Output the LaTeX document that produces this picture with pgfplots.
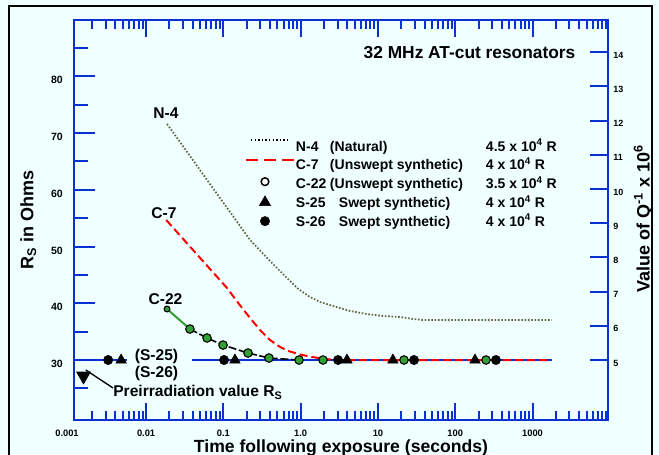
\documentclass[border=0pt]{standalone}
\usepackage{pgfplots}
\pgfplotsset{compat=1.18}
\usepackage{fontspec}
\setmainfont{Liberation Sans}
\definecolor{bg}{RGB}{240,255,255}
\definecolor{axblue}{RGB}{10,50,210}
\definecolor{nolive}{RGB}{100,100,60}
\definecolor{cgreen}{RGB}{50,160,50}
\newcommand{\fs}[1]{\fontsize{#1}{#1}\selectfont\bfseries}
\pgfplotsset{
  xaxbase/.style={
    at={(55.5pt,25.5pt)}, anchor=south west,
    scale only axis, width=400.5pt, height=300pt,
    xmin=0.001167, xmax=9466,
    ymin=19.424, ymax=89.93,
    axis line style={draw=axblue, line width=1.5pt},
    tick align=inside,
    tick style={draw=axblue, line width=1.5pt},
    major tick length=12.75pt, minor tick length=6.75pt,
    xtick={0.01,0.1,1,10,100,1000},
    minor xtick={0.002,0.003,0.004,0.005,0.006,0.007,0.008,0.009,
      0.02,0.03,0.04,0.05,0.06,0.07,0.08,0.09,
      0.2,0.3,0.4,0.5,0.6,0.7,0.8,0.9,
      2,3,4,5,6,7,8,9,20,30,40,50,60,70,80,90,
      200,300,400,500,600,700,800,900,
      2000,3000,4000,5000,6000,7000,8000,9000},
    ytick=\empty,
  }
}

\begin{document}
\begin{tikzpicture}
\begin{scope}[x=0.75pt,y=0.75pt]
\fill[bg] (0,0) rectangle (659,454);
\draw[black,line width=1pt] (9,-3) -- (9,448) -- (652,448) -- (652,-3);
\end{scope}

% ---------- top ticks only ----------
\begin{semilogxaxis}[xaxbase, xtick pos=right, xticklabels={}]
\end{semilogxaxis}

% ---------- main data axis ----------
\begin{semilogxaxis}[
  xaxbase, xtick pos=left, major tick length=0pt, minor tick length=0pt,
  xticklabels={0.01,0.1,1.0,10,100,1000},
  xticklabel style={font=\fs{7}, anchor=north, inner sep=0pt, yshift=-7.1pt},
  clip=false,
  legend cell align=left,
  legend style={at={(0.3202,0.7014)}, anchor=north west, draw=none, fill=none,
    inner sep=0pt, outer sep=0pt, row sep=0pt, column sep=0.75pt,
    font=\fs{10.5},
    nodes={inner sep=0pt, text height=4pt, text depth=4pt}},
]
% bottom tick lines (pointing up into the box)
\pgfplotsinvokeforeach{0.01,0.1,1,10,100,1000}{
  \draw[axblue, line width=1.5pt] (axis cs:#1,19.424) -- ++(0pt,12.75pt);
}
\pgfplotsinvokeforeach{0.002,0.003,0.004,0.005,0.006,0.007,0.008,0.009,
    0.02,0.03,0.04,0.05,0.06,0.07,0.08,0.09,
    0.2,0.3,0.4,0.5,0.6,0.7,0.8,0.9,
    2,3,4,5,6,7,8,9,20,30,40,50,60,70,80,90,
    200,300,400,500,600,700,800,900,
    2000,3000,4000,5000,6000,7000,8000,9000}{
  \draw[axblue, line width=1.5pt] (axis cs:#1,19.424) -- ++(0pt,6.75pt);
}
% reference line at 30 (blue)
\addplot[axblue, line width=1.5pt, forget plot] coordinates {(0.00188,30) (0.00566,30)};
\addplot[axblue, line width=1.5pt, forget plot] coordinates {(0.0391,30) (1760,30)};
% N-4 dotted
\addplot[nolive, line width=1.3pt, dash pattern=on 1.2pt off 1.3pt, forget plot] coordinates {
 (0.01866,71.6) (0.03698,65.96) (0.0670,61.02) (0.1219,56.09) (0.2213,51.15)
 (0.401,47.45) (0.897,42.69) (1.32,41.1) (1.78,40.22) (2.62,39.52) (4.35,38.64)
 (7.21,38.1) (11.6,37.76) (19.3,37.58) (28.4,37.23) (38.3,37.05) (1760,37.05)};
% C-7 dashed red
\addplot[red, line width=1.5pt, dash pattern=on 6pt off 3pt, forget plot] coordinates {
 (0.0182,54.68) (0.0456,48.60) (0.1114,42.69) (0.1592,39.87) (0.2213,37.40)
 (0.2979,35.29) (0.401,33.53) (0.5406,32.29) (0.7278,31.50) (0.9795,30.97)
 (1.402,30.53) (2.065,30.18) (2.951,30) (1760,30)};
% C-22 connecting lines
\addplot[cgreen, line width=1.5pt, forget plot] coordinates {(0.01866,38.99) (0.0369,35.46)};
\addplot[black, line width=1.2pt, dash pattern=on 6pt off 2pt, forget plot] coordinates {
 (0.0369,35.46) (0.0614,33.88) (0.0989,32.64) (0.2084,31.23) (0.389,30.35) (0.953,30)};
% S-25 triangles
\addplot[only marks, mark=triangle*, mark size=4.5pt, black, forget plot] coordinates {
 (0.00475,30) (0.141,30) (3.97,30) (15.6,30) (180,30)};
% S-26 filled circles
\addplot[only marks, mark=*, mark size=3.5pt, black, forget plot] coordinates {
 (0.00323,30) (0.102,30) (3.04,30) (29.3,30) (336,30)};
% C-22 green circles
\addplot[only marks, mark=*, mark size=2.2pt, mark options={fill=cgreen, draw=black, line width=0.8pt}, forget plot] coordinates {(0.01866,38.99)};
\addplot[only marks, mark=*, mark size=3.2pt, mark options={fill=cgreen, draw=black, line width=0.8pt}, forget plot] coordinates {
 (0.0369,35.46) (0.0614,33.88) (0.0989,32.64) (0.2084,31.23) (0.389,30.35)
 (0.953,30) (1.946,30) (21.7,30) (250,30)};
% preirradiation marker
\addplot[only marks, mark=triangle*, mark size=6pt, mark options={rotate=180}, black, forget plot] coordinates {(0.00155,27.18)};
\draw[black, line width=1pt] (axis cs:0.00166,28.24) -- (axis cs:0.003733,25.06);

% legend
\addlegendimage{legend image code/.code={
  \path[draw=none,fill=none] (0pt,-5.4pt) rectangle (36pt,8.66pt);
  \draw[black, line width=1.1pt, dash pattern=on 1pt off 1.7pt] (3.75pt,8.25pt) -- (33pt,8.25pt);}}
\addlegendentry{\makebox[25.5pt][l]{N-4}\makebox[117pt][l]{(Natural)}4.5 x 10\textsuperscript{4} R}
\addlegendimage{legend image code/.code={
  \path[draw=none,fill=none] (0pt,-5.4pt) rectangle (36pt,8.66pt);
  \draw[red, line width=1.5pt, dash pattern=on 9pt off 4.5pt] (0pt,7.1pt) -- (36pt,7.1pt);}}
\addlegendentry{\makebox[25.5pt][l]{C-7}\makebox[117pt][l]{(Unswept synthetic)}4 x 10\textsuperscript{4} R}
\addlegendimage{legend image code/.code={
  \path[draw=none,fill=none] (0pt,-5.4pt) rectangle (36pt,8.66pt);
  \draw[only marks, mark=*, mark size=2.9pt, mark options={fill=white, draw=black, line width=1.1pt}] plot coordinates {(14.25pt,5.25pt)};}}
\addlegendentry{\makebox[25.5pt][l]{C-22}\makebox[117pt][l]{(Unswept synthetic)}3.5 x 10\textsuperscript{4} R}
\addlegendimage{legend image code/.code={
  \path[draw=none,fill=none] (0pt,-5.4pt) rectangle (36pt,8.66pt);
  \draw[only marks, mark=triangle*, mark size=4.9pt, black] plot coordinates {(14.25pt,3.75pt)};}}
\addlegendentry{\makebox[25.5pt][l]{S-25}\makebox[117pt][l]{\hspace{6.75pt}Swept synthetic)}4 x 10\textsuperscript{4} R}
\addlegendimage{legend image code/.code={
  \path[draw=none,fill=none] (0pt,-5.4pt) rectangle (36pt,8.66pt);
  \draw[only marks, mark=*, mark size=3.5pt, black] plot coordinates {(14.25pt,3.75pt)};}}
\addlegendentry{\makebox[25.5pt][l]{S-26}\makebox[117pt][l]{\hspace{6.75pt}Swept synthetic)}4 x 10\textsuperscript{4} R}

% annotations
\node[font=\fs{11.7}, inner sep=0pt] at (axis cs:0.01811,73.54) {N-4};
\node[font=\fs{11.7}, inner sep=0pt] at (axis cs:0.01706,55.91) {C-7};
\node[font=\fs{11.7}, inner sep=0pt] at (axis cs:0.01783,40.66) {C-22};
\node[font=\fs{11.7}, inner sep=0pt, anchor=base] at (axis cs:0.01364,30) {(S-25)};
\node[font=\fs{11.7}, inner sep=0pt, anchor=base] at (axis cs:0.01364,27.0) {(S-26)};
\node[font=\fs{11.7}, inner sep=0pt, anchor=base west] at (axis cs:0.003733,23.48) {Preirradiation value R\textsubscript{S}};
\end{semilogxaxis}

% ---------- left y axis ----------
\begin{axis}[
  at={(55.5pt,25.5pt)}, anchor=south west,
  scale only axis, width=400.5pt, height=300pt,
  xmin=0, xmax=1, ymin=19.424, ymax=89.93,
  axis line style={draw=axblue, line width=1.5pt},
  tick align=inside,
  tick style={draw=axblue, line width=1.5pt},
  major tick length=15.75pt, minor tick length=10.5pt,
  xtick=\empty,
  ytick={30,40,50,60,70,80}, yticklabels={30,40,50,60,70,80},
  minor ytick={25,35,45,55,65,75,85},
  ytick pos=left,
  yticklabel style={font=\fs{7.9}, anchor=east, inner sep=0pt, xshift=-8.25pt, yshift=-3pt},
]
\end{axis}

% ---------- right y axis ----------
\begin{axis}[
  at={(55.5pt,25.5pt)}, anchor=south west,
  scale only axis, width=400.5pt, height=300pt,
  xmin=0, xmax=1, ymin=3.245, ymax=14.944,
  axis line style={draw=axblue, line width=1.5pt},
  tick align=inside,
  tick style={draw=axblue, line width=1.5pt},
  major tick length=13.5pt,
  xtick=\empty,
  ytick={5,6,7,8,9,10,11,12,13,14}, yticklabels={5,6,7,8,9,10,11,12,13,14},
  ytick pos=right,
  yticklabel style={font=\fs{6.75}, anchor=west, inner sep=0pt, xshift=3.75pt, yshift=-2.25pt},
]
\end{axis}

\begin{scope}[x=0.75pt,y=0.75pt]
\node[font=\fs{7}, inner sep=0pt, anchor=north] at (67,24.5) {0.001};
\node[font=\fs{13.2}, inner sep=0pt, anchor=base] at (341,2) {Time following exposure (seconds)};
\node[font=\fs{13.5}, inner sep=0pt, anchor=base, rotate=90] at (33.3,234) {R\textsubscript{S} in Ohms};
\node[font=\fs{13.5}, inner sep=0pt, anchor=base, rotate=90] at (649.5,235.5) {Value of Q\textsuperscript{-1} x 10\textsuperscript{6}};
\node[font=\fs{13}, inner sep=0pt, anchor=base] at (469.5,395) {32 MHz AT-cut resonators};
\end{scope}
\pgfresetboundingbox
\useasboundingbox (0pt,0pt) rectangle (494.25pt,340.5pt);
\end{tikzpicture}
\end{document}
